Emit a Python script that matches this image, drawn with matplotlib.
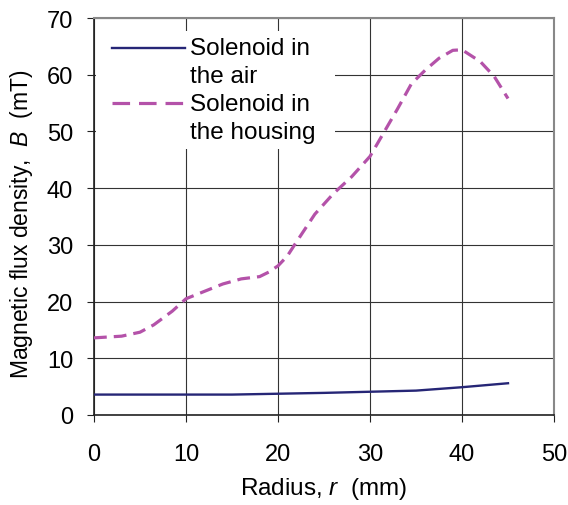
import matplotlib
matplotlib.use('Agg')
import matplotlib.pyplot as plt
from matplotlib.patches import Rectangle
from matplotlib.lines import Line2D

plt.rcParams['font.family'] = ['Liberation Sans', 'DejaVu Sans']
plt.rcParams['mathtext.fontset'] = 'custom'
plt.rcParams['mathtext.it'] = 'Liberation Sans:italic'
plt.rcParams['mathtext.rm'] = 'Liberation Sans'

# solenoid in the air
r_air = [0, 5, 10, 15, 20, 25, 30, 35, 40, 45]
b_air = [3.6, 3.6, 3.6, 3.6, 3.75, 3.9, 4.1, 4.3, 4.9, 5.6]

# solenoid in the housing
r_house = [0, 3, 5, 6.5, 8.5, 10, 12, 14, 16, 18, 19, 20, 21, 22, 24, 26, 28,
           30, 32, 33, 34.5, 36, 37.5, 39, 40, 42, 43.5, 45]
b_house = [13.6, 13.9, 14.6, 15.9, 18.3, 20.5, 21.8, 23.1, 24.0, 24.4, 25.2,
           26.3, 28.0, 30.5, 35.4, 39.0, 42.0, 45.6, 51.2, 54.0, 58.4, 60.8,
           62.9, 64.3, 64.4, 62.3, 59.7, 55.8]

labels = ['Solenoid in\nthe air', 'Solenoid in\nthe housing']
c_air = '#262676'
c_house = '#B452A9'

fig = plt.figure(figsize=(5.68, 5.06), dpi=100)
ax = fig.add_axes([94 / 568, 90 / 506, 460 / 568, 397 / 506])

ax.plot(r_air, b_air, color=c_air, lw=1.7, zorder=3)
ax.plot(r_house, b_house, color=c_house, lw=2.3, dashes=(4, 2.2), zorder=3)

ax.set_xlim(0, 50)
ax.set_ylim(0, 70)
ax.set_xticks(range(0, 51, 10))
ax.set_yticks(range(0, 71, 10))
ax.grid(True, color='#333333', lw=0.8, zorder=1)
ax.set_axisbelow(True)
ax.tick_params(direction='out', length=5, width=0.8, labelsize=17, color='#222222')
ax.tick_params(axis='x', pad=15)
ax.tick_params(axis='y', pad=10)
for s in ['left', 'bottom']:
    ax.spines[s].set_color('#222222')
    ax.spines[s].set_linewidth(1.2)
for s in ['top', 'right']:
    ax.spines[s].set_color('#888888')
    ax.spines[s].set_linewidth(1.5)

ax.set_xlabel('Radius, $r$  (mm)', fontsize=17.5)
ax.set_ylabel('Magnetic flux density,  $B$  (mT)', fontsize=16.5)
ax.xaxis.set_label_coords(0.5, -0.152)
ax.yaxis.set_label_coords(-0.128, 0.482)

# legend drawn by hand so the key line sits on the first text line
ax.add_patch(Rectangle((0.004, 0.670), 0.520, 0.297, transform=ax.transAxes,
                       facecolor='white', edgecolor='none', zorder=2))
ax.add_line(Line2D([0.039, 0.198], [0.924, 0.924], transform=ax.transAxes,
                   color=c_air, lw=1.7, zorder=4))
ax.add_line(Line2D([0.039, 0.198], [0.786, 0.786], transform=ax.transAxes,
                   color=c_house, lw=2.3, dashes=(5.5, 2.8), zorder=4))
ax.text(0.209, 0.952, labels[0], transform=ax.transAxes, fontsize=17.5,
        va='top', ha='left', linespacing=1.35, zorder=4)
ax.text(0.209, 0.810, labels[1], transform=ax.transAxes, fontsize=17.5,
        va='top', ha='left', linespacing=1.3, zorder=4)

fig.savefig('out.png', dpi=100)
